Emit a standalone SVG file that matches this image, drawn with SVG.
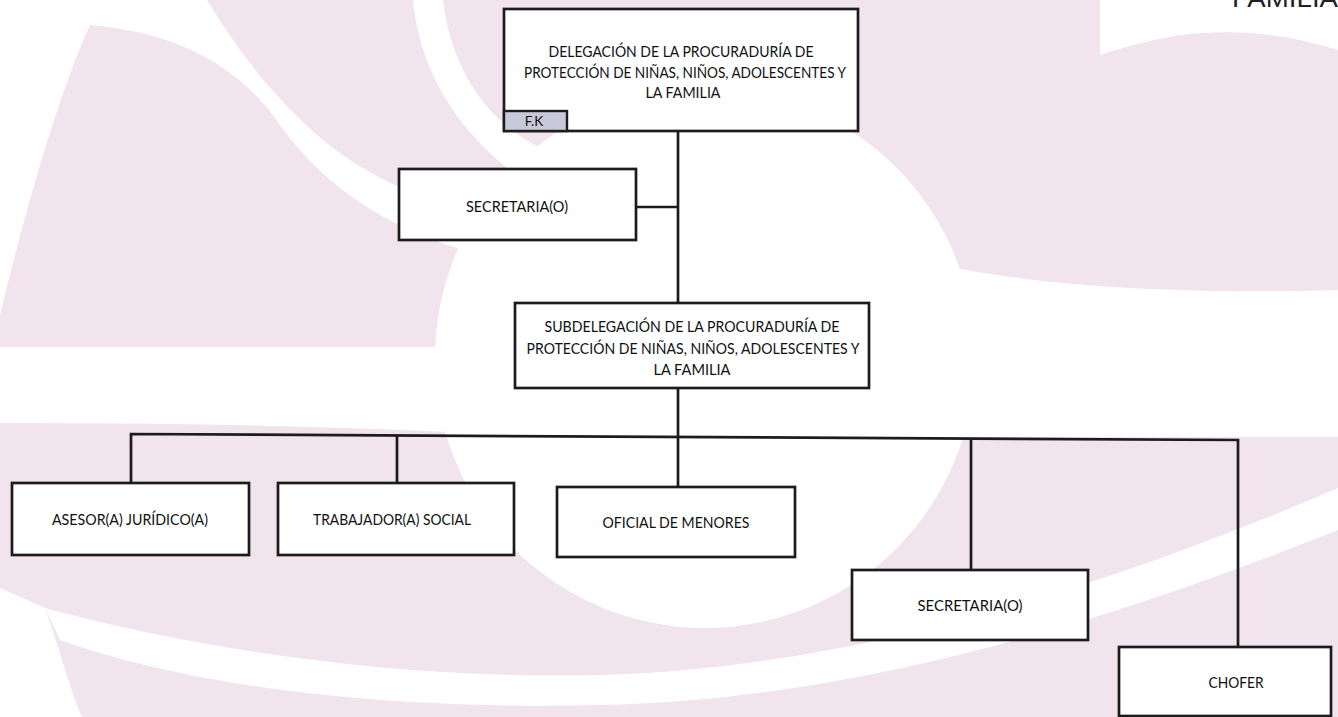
<svg xmlns="http://www.w3.org/2000/svg" width="1338" height="717" viewBox="0 0 1338 717">
<style>
.box{fill:#ffffff;stroke:#1c1c1c;stroke-width:2.7}
.fk{fill:#c9c8d8;stroke:#1c1c1c;stroke-width:2.4}
.t{font-family:Lato,"Liberation Sans",sans-serif;font-size:15.5px;fill:#111111;text-anchor:middle}
.con{fill:none;stroke:#1c1c1c;stroke-width:2.7}
.pk{fill:#f2e4ec}
.wh{fill:#ffffff}
</style>
<g id="background">
<rect x="0" y="0" width="1338" height="717" class="pk"/>
<path class="wh" d="M0,0 L207,0 C240,55 290,120 350,160 C390,185 430,205 480,213 L470,252 C400,232 330,195 280,125 C235,60 170,32 90,25 C60,90 25,210 0,315 Z"/>
<path class="wh" d="M413,0 L443,0 C450,60 480,120 545,150 L520,178 C455,130 420,70 413,0 Z"/>
<circle class="wh" cx="705" cy="358" r="270"/>
<path class="wh" d="M0,347 L445,347 L452,432 C300,425 150,423 0,423 Z"/>
<path class="wh" d="M880,250 C1000,285 1150,295 1338,290 L1338,437 L880,437 Z"/>
<path class="wh" d="M1100,0 L1338,0 L1338,50 C1290,35 1240,28 1180,35 C1150,40 1120,48 1100,55 Z"/>
<path class="wh" d="M45,608 C200,650 400,680 600,675 C850,668 1100,590 1338,488 L1338,530 C1100,625 850,700 600,705 C400,710 200,690 60,640 Z"/>
<path class="wh" d="M0,588 L45,608 C60,650 70,690 82,717 L0,717 Z"/>
</g>
<text x="1232" y="6.5" textLength="106" lengthAdjust="spacingAndGlyphs" style="font-family:'Liberation Sans',Arial,sans-serif;font-size:26px;fill:#222">FAMILIA</text>
<g id="connectors">
<line class="con" x1="678" y1="131" x2="678" y2="303"/>
<line class="con" x1="636" y1="207" x2="678" y2="207"/>
<line class="con" x1="678" y1="388" x2="678" y2="487"/>
<polyline class="con" points="131,483 131,434 1238,440 1238,647"/>
<line class="con" x1="397" y1="435" x2="397" y2="483"/>
<line class="con" x1="971" y1="439" x2="971" y2="570"/>
</g>
<g id="delegacion">
<rect class="box" x="504" y="9" width="354" height="122"/>
<text class="t" x="681" y="57" textLength="265" lengthAdjust="spacingAndGlyphs">DELEGACIÓN DE LA PROCURADURÍA DE</text>
<text class="t" x="685" y="78" textLength="322" lengthAdjust="spacingAndGlyphs">PROTECCIÓN DE NIÑAS, NIÑOS, ADOLESCENTES Y</text>
<text class="t" x="683" y="98" textLength="75" lengthAdjust="spacingAndGlyphs">LA FAMILIA</text>
</g>
<g id="fk">
<rect class="fk" x="504" y="111" width="63" height="20"/>
<text x="534" y="125.5" style="font-family:Lato,'Liberation Sans',sans-serif;font-size:13.5px;fill:#111;text-anchor:middle">F.K</text>
</g>
<g id="secretaria1">
<rect class="box" x="399" y="169" width="237" height="71"/>
<text class="t" x="517" y="212" textLength="102" lengthAdjust="spacingAndGlyphs">SECRETARIA(O)</text>
</g>
<g id="subdelegacion">
<rect class="box" x="515" y="303" width="354" height="85"/>
<text class="t" x="692" y="332" textLength="295" lengthAdjust="spacingAndGlyphs">SUBDELEGACIÓN DE LA PROCURADURÍA DE</text>
<text class="t" x="693" y="354" textLength="333" lengthAdjust="spacingAndGlyphs">PROTECCIÓN DE NIÑAS, NIÑOS, ADOLESCENTES Y</text>
<text class="t" x="692" y="375" textLength="77" lengthAdjust="spacingAndGlyphs">LA FAMILIA</text>
</g>
<g id="asesor">
<rect class="box" x="12" y="483" width="237" height="72"/>
<text class="t" x="130" y="525" textLength="156" lengthAdjust="spacingAndGlyphs">ASESOR(A) JURÍDICO(A)</text>
</g>
<g id="trabajador">
<rect class="box" x="278" y="483" width="236" height="72"/>
<text class="t" x="392" y="525" textLength="158" lengthAdjust="spacingAndGlyphs">TRABAJADOR(A) SOCIAL</text>
</g>
<g id="oficial">
<rect class="box" x="557" y="487" width="238" height="70"/>
<text class="t" x="676" y="528" textLength="147" lengthAdjust="spacingAndGlyphs">OFICIAL DE MENORES</text>
</g>
<g id="secretaria2">
<rect class="box" x="852" y="570" width="236" height="70"/>
<text class="t" x="970" y="611" textLength="105" lengthAdjust="spacingAndGlyphs">SECRETARIA(O)</text>
</g>
<g id="chofer">
<rect class="box" x="1119" y="647" width="212" height="69"/>
<text class="t" x="1236" y="688" textLength="55" lengthAdjust="spacingAndGlyphs">CHOFER</text>
</g>
</svg>
